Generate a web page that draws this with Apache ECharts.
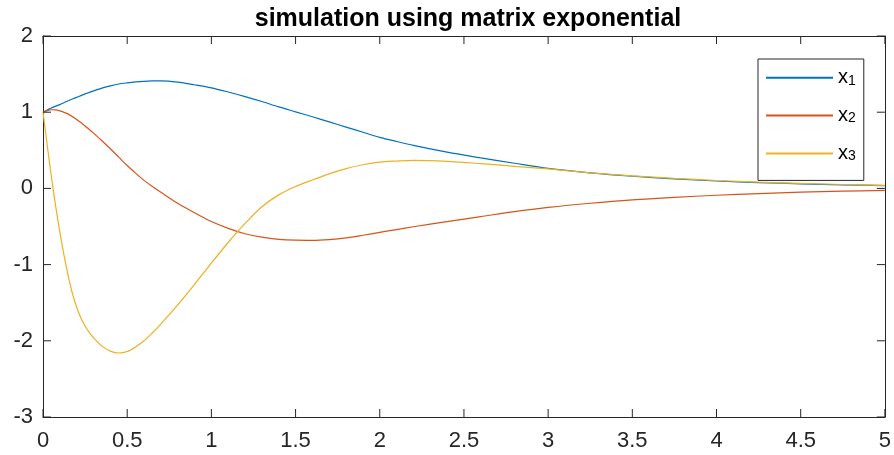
<!DOCTYPE html>
<html>
<head>
<meta charset="utf-8">
<script src="https://cdn.jsdelivr.net/npm/echarts@6/dist/echarts.min.js"></script>
<style>html,body{margin:0;padding:0;background:#fff;}#c{width:894px;height:455px;}</style>
</head>
<body>
<div id="c"></div>
<script>
const titleText = 'simulation using matrix exponential';
const seriesNames = ['x1', 'x2', 'x3'];
const t  = [0, 0.025, 0.05, 0.075, 0.1, 0.125, 0.15, 0.175, 0.2, 0.225, 0.25, 0.275, 0.3, 0.35, 0.4, 0.45, 0.5, 0.55, 0.6, 0.65, 0.7, 0.8, 0.9, 1.0, 1.1, 1.2, 1.3, 1.4, 1.5, 1.6, 1.7, 1.8, 1.9, 2.0, 2.1, 2.2, 2.4, 2.6, 2.8, 3.0, 3.25, 3.5, 3.75, 4.0, 4.25, 4.5, 4.75, 5.0];
const x1 = [1.0, 1.03, 1.055, 1.08, 1.10, 1.125, 1.15, 1.173, 1.195, 1.218, 1.24, 1.26, 1.28, 1.315, 1.345, 1.37, 1.385, 1.397, 1.405, 1.41, 1.412, 1.395, 1.36, 1.32, 1.265, 1.205, 1.14, 1.07, 1.005, 0.94, 0.873, 0.805, 0.737, 0.67, 0.616, 0.565, 0.475, 0.40, 0.33, 0.263, 0.205, 0.16, 0.125, 0.097, 0.077, 0.06, 0.047, 0.036];
const x2 = [1.0, 1.02, 1.032, 1.03, 1.017, 0.998, 0.975, 0.942, 0.905, 0.864, 0.82, 0.773, 0.725, 0.625, 0.52, 0.41, 0.30, 0.20, 0.105, 0.025, -0.05, -0.195, -0.32, -0.435, -0.525, -0.595, -0.64, -0.668, -0.68, -0.682, -0.672, -0.65, -0.615, -0.577, -0.54, -0.503, -0.435, -0.37, -0.305, -0.25, -0.195, -0.15, -0.117, -0.09, -0.068, -0.05, -0.037, -0.026];
const x3 = [1.0, 0.57, 0.15, -0.23, -0.57, -0.88, -1.15, -1.38, -1.56, -1.70, -1.805, -1.89, -1.96, -2.07, -2.135, -2.16, -2.14, -2.08, -2.0, -1.895, -1.78, -1.53, -1.26, -0.98, -0.71, -0.46, -0.24, -0.085, 0.025, 0.11, 0.19, 0.26, 0.31, 0.345, 0.359, 0.368, 0.355, 0.325, 0.29, 0.255, 0.205, 0.165, 0.132, 0.104, 0.082, 0.065, 0.051, 0.04];
const xTicks = [0, 0.5, 1, 1.5, 2, 2.5, 3, 3.5, 4, 4.5, 5];
const yTicks = [-3, -2, -1, 0, 1, 2];
const colors = ['#0072BD', '#D95319', '#EDB120'];
const values = [x1, x2, x3];
const xMin = 0, xMax = 5, xStep = 0.5;
const yMin = -3, yMax = 2, yStep = 1;

const FONT = '"Liberation Sans", Arial, Helvetica, sans-serif';
const AX = '#262626';
const TICK = 8;

function mainAxis(extra) {
  return Object.assign({
    type: 'value',
    axisLine: { show: true, onZero: false, lineStyle: { color: AX, width: 1 } },
    axisTick: { show: false },
    splitLine: { show: false },
    axisLabel: { show: false }
  }, extra);
}
const labelStyle = { show: true, fontSize: 22, color: AX, fontFamily: FONT };

// inward tick marks on all four sides, positioned through the axes' own scales
function tickSeries(ticks, isX) {
  return {
    type: 'custom', silent: true, clip: false, z: 10,
    xAxisIndex: 0, yAxisIndex: 0,
    encode: { x: 0, y: 1 },
    data: ticks.map(v => isX ? [v, yMin] : [xMin, v]),
    renderItem: function (params, api) {
      const v = isX ? api.value(0) : api.value(1);
      const a = isX ? api.coord([v, yMin]) : api.coord([xMin, v]);
      const b = isX ? api.coord([v, yMax]) : api.coord([xMax, v]);
      const st = { stroke: AX, lineWidth: 1 };
      const shapes = isX
        ? [{ x1: a[0], y1: a[1], x2: a[0], y2: a[1] - TICK }, { x1: b[0], y1: b[1], x2: b[0], y2: b[1] + TICK }]
        : [{ x1: a[0], y1: a[1], x2: a[0] + TICK, y2: a[1] }, { x1: b[0], y1: b[1], x2: b[0] - TICK, y2: b[1] }];
      return { type: 'group', children: shapes.map(s => ({ type: 'line', shape: s, style: st })) };
    }
  };
}

const chart = echarts.init(document.getElementById('c'), null, { renderer: 'canvas' });
chart.setOption({
  animation: false,
  backgroundColor: '#fff',
  title: {
    text: titleText, left: 468, top: 7, padding: 0, textAlign: 'center',
    textStyle: { fontSize: 25, fontWeight: 'bold', color: '#000', fontFamily: FONT }
  },
  grid: { left: 43, right: 8, top: 36, bottom: 38, containLabel: false },
  xAxis: [
    mainAxis({ position: 'bottom', min: xMin, max: xMax, interval: xStep, axisLabel: Object.assign({ margin: 13 }, labelStyle) }),
    mainAxis({ position: 'top', min: xMin, max: xMax, interval: xStep })
  ],
  yAxis: [
    mainAxis({ position: 'left', min: yMin, max: yMax, interval: yStep, axisLabel: Object.assign({ margin: 10 }, labelStyle) }),
    mainAxis({ position: 'right', min: yMin, max: yMax, interval: yStep })
  ],
  legend: {
    orient: 'vertical', left: 758, top: 59,
    padding: [8, 8, 9, 7], itemGap: 9, itemWidth: 67, itemHeight: 27,
    borderColor: AX, borderWidth: 1, backgroundColor: '#fff',
    itemStyle: { opacity: 0 },
    data: seriesNames,
    formatter: n => '{m|x}{s|' + n.slice(1) + '}',
    textStyle: {
      fontFamily: FONT, color: '#000',
      rich: {
        m: { fontSize: 20, lineHeight: 20, verticalAlign: 'top', padding: [0, 0, 8, 0], fontFamily: FONT, color: '#000' },
        s: { fontSize: 14, lineHeight: 14, verticalAlign: 'bottom', fontFamily: FONT, color: '#000' }
      }
    }
  },
  series: seriesNames.map((name, i) => ({
    name: name,
    type: 'line',
    xAxisIndex: 0, yAxisIndex: 0,
    symbol: 'none', showSymbol: false,
    smooth: 0.3,
    color: colors[i],
    lineStyle: { color: colors[i], width: 1.2 },
    data: t.map((tv, k) => [tv, values[i][k]]),
    z: 2 + i
  })).concat([tickSeries(xTicks, true), tickSeries(yTicks, false)])
});
</script>
</body>
</html>
